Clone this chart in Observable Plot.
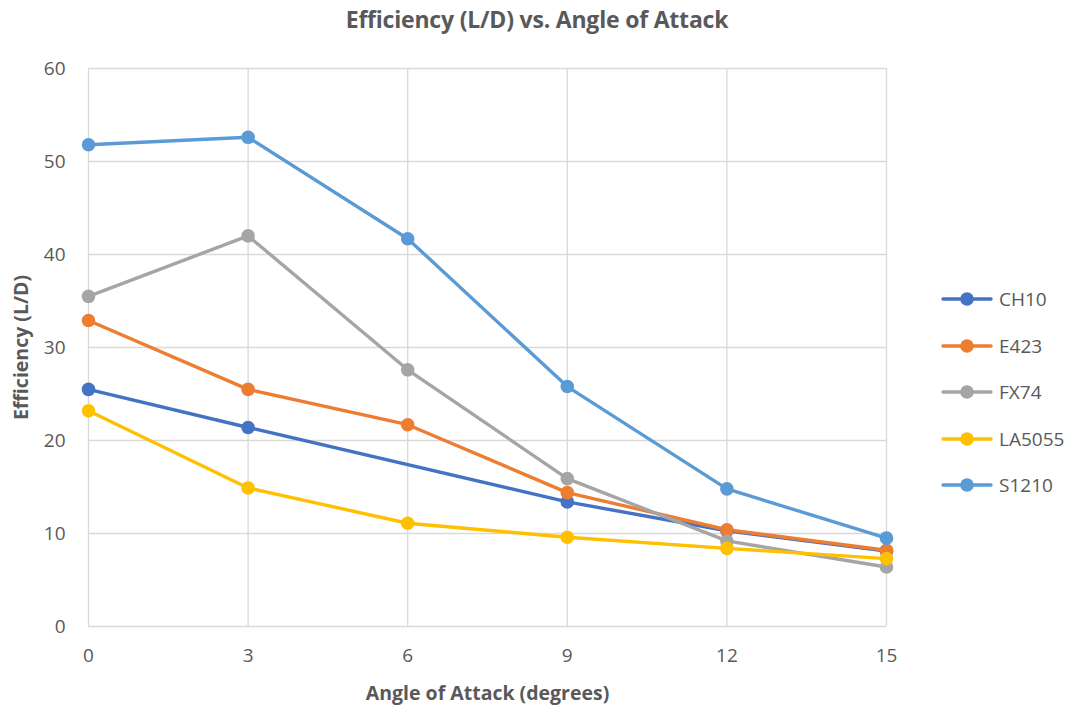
<!DOCTYPE html>
<html>
<head>
<meta charset="utf-8">
<script src="https://cdn.jsdelivr.net/npm/d3@7"></script>
<script src="https://cdn.jsdelivr.net/npm/@observablehq/plot@0.6"></script>
<style>
  html, body { margin: 0; padding: 0; background: #fff; }
  body { width: 1074px; height: 710px; position: relative; overflow: hidden; font-family: "Open Sans", sans-serif; }
  #title { height: 40px; text-align: center; font-weight: bold; font-size: 23px; color: #595959; line-height: 38px; letter-spacing: -0.2px; }
  #legend { position: absolute; left: 940px; top: 286px; }
  .item { height: 46.6px; display: flex; align-items: flex-start; font-size: 19px; color: #595959; }
  .item span { line-height: 26px; }
  .item svg { margin-right: 5px; margin-top: 2px; }
</style>
</head>
<body>
<div id="title">Efficiency (L/D) vs. Angle of Attack</div>
<div id="chart"></div>
<div id="legend"></div>
<script>
const angles = [0, 3, 6, 9, 12, 15];
const seriesNames = ["CH10", "E423", "FX74", "LA5055", "S1210"];
const colors = ["#4472C4", "#ED7D31", "#A5A5A5", "#FFC000", "#5B9BD5"];
const CH10   = [25.5, 21.4, null, 13.4, 10.3, 8.1];
const E423   = [32.9, 25.5, 21.7, 14.4, 10.4, 8.2];
const FX74   = [35.5, 42.0, 27.6, 15.9, 9.2, 6.4];
const LA5055 = [23.2, 14.9, 11.1, 9.6, 8.4, 7.3];
const S1210  = [51.8, 52.6, 41.7, 25.8, 14.8, 9.5];
const yTicks = [0, 10, 20, 30, 40, 50, 60];

const valuesBy = {CH10, E423, FX74, LA5055, S1210};
const rows = [];
seriesNames.forEach(name => {
  angles.forEach((a, i) => {
    const v = valuesBy[name][i];
    if (v != null) rows.push({series: name, angle: a, value: v});
  });
});

const colorScale = {domain: seriesNames, range: colors};

const plot = Plot.plot({
  width: 1074,
  height: 670,
  marginTop: 28,
  marginBottom: 84,
  marginLeft: 88,
  marginRight: 188,
  style: {fontFamily: "Open Sans, sans-serif", fontSize: "19px", color: "#595959", background: "#fff"},
  x: {domain: [0, 15], ticks: angles, label: null},
  y: {domain: [0, 60], ticks: yTicks, label: null},
  color: colorScale,
  marks: [
    Plot.gridY(yTicks, {stroke: "#d9d9d9", strokeOpacity: 1, strokeWidth: 1.3}),
    Plot.gridX(angles, {stroke: "#d9d9d9", strokeOpacity: 1, strokeWidth: 1.3}),
    Plot.axisX({ticks: angles, tickSize: 0, tickPadding: 22, fontSize: 19, fill: "#595959", label: null}),
    Plot.axisY({ticks: yTicks, tickSize: 0, tickPadding: 23, fontSize: 19, fill: "#595959", label: null}),
    Plot.line(rows, {x: "angle", y: "value", z: "series", stroke: "series", strokeWidth: 3.4}),
    Plot.dot(rows, {x: "angle", y: "value", fill: "series", r: 6.8, stroke: "none"}),
    Plot.text(["Angle of Attack (degrees)"], {frameAnchor: "bottom", lineAnchor: "middle", textAnchor: "middle", dy: 67, fontWeight: "bold", fontSize: 19.5, fill: "#595959", text: d => d}),
    Plot.text(["Efficiency (L/D)"], {frameAnchor: "left", lineAnchor: "middle", textAnchor: "middle", dx: -67, rotate: -90, fontWeight: "bold", fontSize: 19.5, fill: "#595959", text: d => d})
  ]
});
document.getElementById("chart").appendChild(plot);

const legend = document.getElementById("legend");
seriesNames.forEach((name, i) => {
  const div = document.createElement("div");
  div.className = "item";
  div.innerHTML = `<svg width="54" height="22"><line x1="3" x2="51" y1="11" y2="11" stroke="${colors[i]}" stroke-width="3.4" stroke-linecap="round"/><circle cx="27" cy="11" r="6.8" fill="${colors[i]}"/></svg><span>${name}</span>`;
  legend.appendChild(div);
});
</script>
</body>
</html>
